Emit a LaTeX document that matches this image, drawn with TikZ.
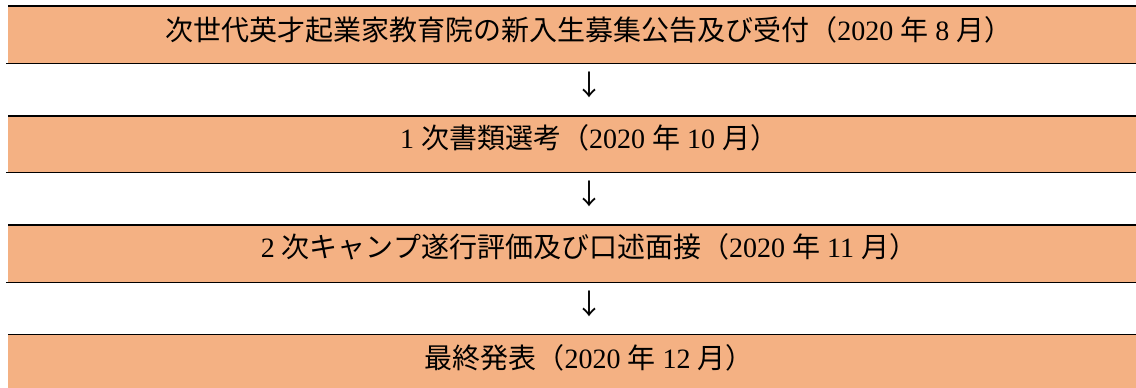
\documentclass[tikz,border=0pt]{standalone}
\usepackage{fontspec}
\setmainfont{Liberation Serif}
\newfontfamily\cjk{Noto Sans CJK JP}
\newcommand\jp[1]{{\cjk #1}}
\definecolor{band}{HTML}{F4B183}
\begin{document}
\begin{tikzpicture}[x=1pt,y=-1pt,
  bandfill/.style={fill=band},
  rule/.style={line width=1.9pt, draw=black},
  steptext/.style={font=\fontsize{28}{32}\selectfont, inner sep=0pt, anchor=base},
  downarrow/.style={font=\cjk\fontsize{28}{32}\selectfont, inner sep=0pt, anchor=center}]
\useasboundingbox (0,0) rectangle (1136,388);
% bands
\fill[bandfill] (8,6) rectangle (1136,63.5);
\fill[bandfill] (8,116) rectangle (1136,172.5);
\fill[bandfill] (8,225) rectangle (1136,282.5);
\fill[bandfill] (8,334.5) rectangle (1136,388);
% rules
\draw[rule] (8,6) -- (1136,6);
\draw[rule] (6,63.5) -- (1136,63.5);
\draw[rule] (8,116) -- (1136,116);
\draw[rule] (6,172.5) -- (1136,172.5);
\draw[rule] (8,225) -- (1136,225);
\draw[rule] (6,282.5) -- (1136,282.5);
\draw[rule] (8,334.5) -- (1136,334.5);
% texts
\node[steptext] (r1) at (589,40) {\jp{次世代英才起業家教育院の新入生募集公告及び受付（}2020 \jp{年} 8 \jp{月）}};
\node[steptext] (r2) at (589,148) {1 \jp{次書類選考（}2020 \jp{年} 10 \jp{月）}};
\node[steptext] (r3) at (589,257) {2 \jp{次キャンプ遂行評価及び口述面接（}2020 \jp{年} 11 \jp{月）}};
\node[steptext] (r4) at (589,368) {\jp{最終発表（}2020 \jp{年} 12 \jp{月）}};
% arrows
\node[downarrow] (a1) at (589,85) {↓};
\node[downarrow] (a2) at (589,194) {↓};
\node[downarrow] (a3) at (589,304) {↓};
\end{tikzpicture}
\end{document}
